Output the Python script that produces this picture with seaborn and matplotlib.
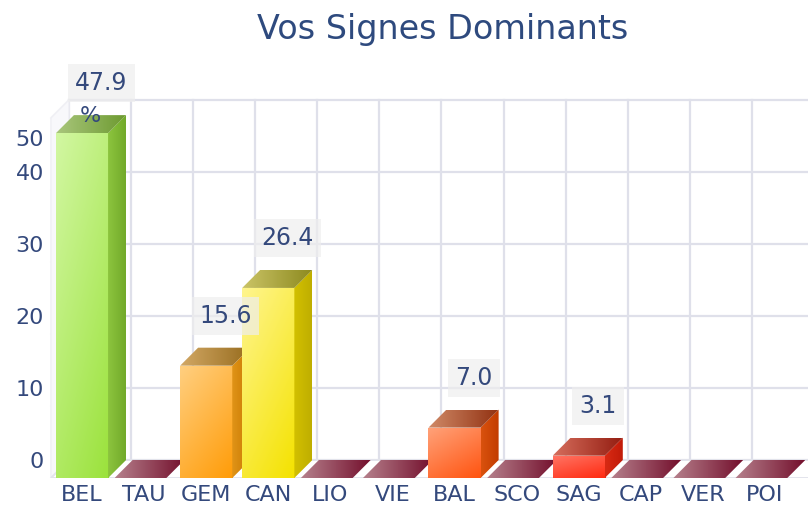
import matplotlib
matplotlib.use("Agg")
import matplotlib.pyplot as plt
import seaborn as sns
import numpy as np
from matplotlib.patches import Polygon
from matplotlib.colors import LinearSegmentedColormap

# donnees du graphique
signs = ["BEL", "TAU", "GEM", "CAN", "LIO", "VIE", "BAL", "SCO", "SAG", "CAP", "VER", "POI"]
percents = [47.9, 0, 15.6, 26.4, 0, 0, 7.0, 0, 3.1, 0, 0, 0]
y_tick_values = [0, 10, 20, 30, 40, 50]

# couleurs : face avant (clair, fonce), cote (clair, fonce), dessus (clair, fonce)
bar_colors = {
    "BEL": ("#d2f7a2", "#9be23c", "#8cc43e", "#72aa2a", "#a9c67c", "#6d9a30"),
    "GEM": ("#ffcf80", "#ff9c08", "#e09418", "#c87800", "#d2a865", "#976c1e"),
    "CAN": ("#fff58e", "#f4e200", "#d2c000", "#bfae00", "#cbc467", "#8d8a1f"),
    "BAL": ("#ffa27a", "#ff5410", "#d9520e", "#c23c00", "#d08a68", "#923212"),
    "SAG": ("#ff7565", "#ff2a10", "#d82a14", "#c01a08", "#d56d5c", "#931c10"),
}
zero_colors = ("#b5808c", "#74102d")
text_color = "#34497c"
grid_color = "#dfe0ea"

W_PX, H_PX = 808, 509
SPX = 62.09      # pixels par categorie
PPU = 7.2        # pixels par point de pourcentage
DX = 18 / SPX    # profondeur 3D en x (unites de donnees)
DY = 18 / PPU    # profondeur 3D en y
BAR_W = 0.84
TILE_W = 0.95


def gradient(ax, verts, c1, c2, z, wx=1.0, wy=0.0, clip=None):
    # remplit un polygone avec un degrade lineaire
    if clip is None:
        clip = Polygon(verts, closed=True, fc="none", ec="none", zorder=z)
        ax.add_patch(clip)
    xs = [p[0] for p in verts]
    ys = [p[1] for p in verts]
    g = np.linspace(0, 1, 64)
    X, Y = np.meshgrid(g, g)
    grad = (wx * X + wy * (1 - Y)) / (wx + wy)
    cm = LinearSegmentedColormap.from_list("g", [c1, c2])
    im = ax.imshow(grad, extent=(min(xs), max(xs), min(ys), max(ys)), origin="lower",
                   aspect="auto", cmap=cm, vmin=0, vmax=1, zorder=z, interpolation="bilinear")
    im.set_clip_path(clip)


fig = plt.figure(figsize=(W_PX / 100, H_PX / 100), dpi=100)
fig.patch.set_facecolor("white")
ax = fig.add_axes([48 / W_PX, (H_PX - 478) / H_PX, (W_PX - 48) / W_PX, (478 - 55) / H_PX])

xmin, xmax = (48 - 82) / SPX, (W_PX - 82) / SPX
ymax = (478 - 55) / PPU
top = max(y_tick_values)

# faces avant avec seaborn
palette = [bar_colors[s][1] if s in bar_colors else zero_colors[1] for s in signs]
sns.barplot(x=signs, y=percents, hue=signs, palette=palette, legend=False,
            width=BAR_W, saturation=1, ax=ax)
bars = sorted([b for cont in ax.containers for b in cont], key=lambda b: b.get_x())

# mur du fond + grille
ax.add_patch(Polygon([(-0.5 + DX, DY), (xmax + 1, DY), (xmax + 1, top + DY), (-0.5 + DX, top + DY)],
                     fc="white", ec="none", zorder=0))
for v in y_tick_values:
    ax.plot([-0.5 + DX, xmax + 1], [v + DY, v + DY], color=grid_color, lw=1.6, zorder=1)
    ax.plot([-0.5, -0.5 + DX], [v, v + DY], color="#f0f0f4", lw=1.0, zorder=1)
for k in range(len(signs)):
    ax.plot([k - 0.5 + DX] * 2, [DY, top + DY], color=grid_color, lw=1.6, zorder=1)
# mur de gauche et sol
ax.add_patch(Polygon([(-0.5, 0), (-0.5 + DX, DY), (-0.5 + DX, top + DY), (-0.5, top)],
                     fc="#f8f8fb", ec="#efeff4", lw=1, zorder=1))
ax.add_patch(Polygon([(-0.5, 0), (xmax + 1, 0), (xmax + 1, DY), (-0.5 + DX, DY)],
                     fc="white", ec="#e3e4ec", lw=1.4, zorder=1))

for i, (bar, s, v) in enumerate(zip(bars, signs, percents)):
    z = 3 + i
    x0 = bar.get_x()
    x1 = x0 + bar.get_width()
    bar.set_zorder(z)
    if v == 0:
        # tuile plate au niveau du sol, un peu plus large que les barres
        bar.set_visible(False)
        t0, t1 = i - TILE_W / 2, i + TILE_W / 2 - DX * 0.4
        gradient(ax, [(t0, 0), (t1, 0), (t1 + DX, DY), (t0 + DX, DY)],
                 zero_colors[0], zero_colors[1], z + 0.3)
        continue
    c = bar_colors[s]
    gradient(ax, [(x0, 0), (x1, 0), (x1, v), (x0, v)], c[0], c[1], z + 0.1,
             wx=0.6, wy=1.0, clip=bar)
    gradient(ax, [(x1, 0), (x1 + DX, DY), (x1 + DX, v + DY), (x1, v)], c[2], c[3], z + 0.2)
    gradient(ax, [(x0, v), (x1, v), (x1 + DX, v + DY), (x0 + DX, v + DY)], c[4], c[5], z + 0.3)

    ax.annotate(f"{v:.1f}", xy=(i, v), xytext=(14, 36), textcoords="offset points",
                ha="center", va="center", fontsize=17, color=text_color, zorder=50,
                bbox=dict(boxstyle="square,pad=0.3", fc="#eeeeee", ec="none", alpha=0.7))
    if i == 0:
        ax.annotate("%", xy=(i, v), xytext=(6, 12), textcoords="offset points",
                    ha="center", va="center", fontsize=16, color=text_color, zorder=50)

# graduations (le 50 est decale vers le bas comme dans l'original)
ypos = [v + DY for v in y_tick_values]
ypos[-1] -= 5.3
ax.set_yticks(ypos)
ax.set_yticklabels([str(v) for v in y_tick_values])
ax.set_xticks(range(len(signs)))
ax.set_xticklabels(signs)
ax.tick_params(axis="both", length=0, labelsize=16, labelcolor=text_color)
ax.tick_params(axis="y", pad=3)
ax.tick_params(axis="x", pad=5)
ax.set_xlabel("")
ax.set_ylabel("")
for sp in ax.spines.values():
    sp.set_visible(False)
ax.set_facecolor("white")
ax.set_xlim(xmin, xmax)
ax.set_ylim(0, ymax)

fig.text(443 / W_PX, 1 - 30 / H_PX, "Vos Signes Dominants", ha="center", va="center",
         fontsize=24, color="#2e4a7e")

fig.savefig("out.png", dpi=100)
